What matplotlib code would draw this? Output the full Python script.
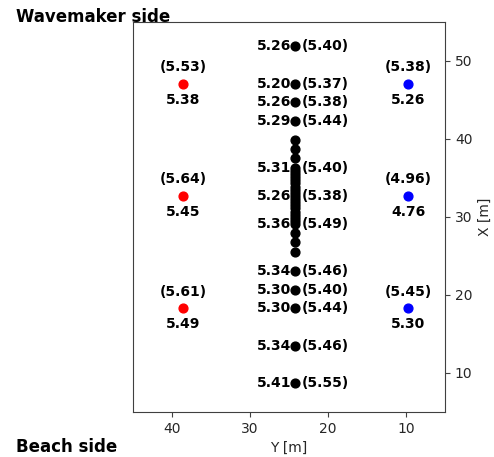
import matplotlib.pyplot as plt

# Gauge positions along the centre line (Y = 24.2 m), labelled ones
center_x = [51.9, 47.05, 44.7, 42.3, 36.3, 32.7, 29.1, 23.1, 20.6, 18.3, 13.5, 8.7]
center_h1 = ["5.26", "5.20", "5.26", "5.29", "5.31", "5.26", "5.36", "5.34", "5.30", "5.30", "5.34", "5.41"]
center_h2 = ["(5.40)", "(5.37)", "(5.38)", "(5.44)", "(5.40)", "(5.38)", "(5.49)", "(5.46)", "(5.40)", "(5.44)", "(5.46)", "(5.55)"]

# Dense unlabelled gauge array on the centre line
dense_x = [39.9, 38.7, 37.5, 35.9, 35.5, 35.1, 34.7, 34.3, 33.9, 33.5, 33.1,
           32.3, 31.9, 31.5, 31.1, 30.7, 30.3, 29.9, 29.5, 28.0, 26.8, 25.5]

# Side gauges
side_x = [47.05, 32.7, 18.3]
red_h1 = ["5.38", "5.45", "5.49"]
red_h2 = ["(5.53)", "(5.64)", "(5.61)"]
blue_h1 = ["5.26", "4.76", "5.30"]
blue_h2 = ["(5.38)", "(4.96)", "(5.45)"]

y_center = 24.2
y_red = 38.6
y_blue = 9.75

fig = plt.figure(figsize=(4.94, 4.57), dpi=100)
ax = fig.add_axes([0.269, 0.0985, 0.632, 0.8535])

ax.scatter([y_center] * len(dense_x), dense_x, s=40, color="black", zorder=3)
ax.scatter([y_center] * len(center_x), center_x, s=40, color="black", zorder=3)
ax.scatter([y_red] * len(side_x), side_x, s=40, color="red", zorder=3)
ax.scatter([y_blue] * len(side_x), side_x, s=40, color="blue", zorder=3)

kw = dict(textcoords="offset points", fontsize=10, fontweight="bold", va="center")
for x, a, b in zip(center_x, center_h1, center_h2):
    ax.annotate(a, (y_center, x), xytext=(-3, 0), ha="right", **kw)
    ax.annotate(b, (y_center, x), xytext=(5, 0), ha="left", **kw)

for yy, h1, h2 in [(y_red, red_h1, red_h2), (y_blue, blue_h1, blue_h2)]:
    for x, a, b in zip(side_x, h1, h2):
        ax.annotate(b, (yy, x), xytext=(0, 12), ha="center", **kw)
        ax.annotate(a, (yy, x), xytext=(0, -11.5), ha="center", **kw)

ax.set_xlim(45, 5)
ax.set_ylim(5, 55)
ax.set_xticks([40, 30, 20, 10])
ax.set_yticks([10, 20, 30, 40, 50])
ax.yaxis.tick_right()
ax.yaxis.set_label_position("right")
ax.set_xlabel("Y [m]", color="0.15")
ax.set_ylabel("X [m]", color="0.15")
for sp in ax.spines.values():
    sp.set_color("0.25")
ax.tick_params(colors="0.25", labelcolor="0.15")

fig.text(16, 457 - 17, "Wavemaker side", transform=None, fontsize=12,
         fontweight="bold", va="center", ha="left")
fig.text(16, 457 - 447, "Beach side", transform=None, fontsize=12,
         fontweight="bold", va="center", ha="left")

fig.savefig("out.png", dpi=100)
